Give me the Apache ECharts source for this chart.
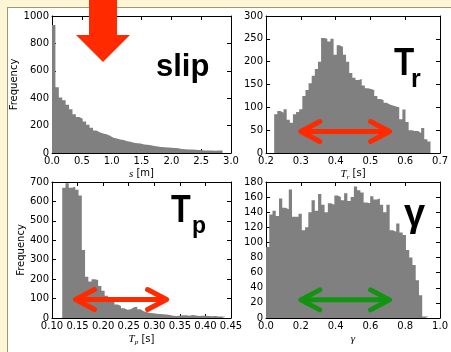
<!DOCTYPE html>
<html>
<head>
<meta charset="utf-8">
<script src="https://cdn.jsdelivr.net/npm/echarts@6/dist/echarts.min.js"></script>
<style>
  html, body { margin: 0; padding: 0; background: #fcf6d4; }
  #panel { position: absolute; left: 7px; top: 7px; width: 444px; height: 345px; background: #fff;
           border-left: 1px solid #9c977c; border-top: 1px solid #9c977c; box-sizing: border-box; }
  #chart { position: absolute; left: 0; top: 0; width: 451px; height: 352px; }
</style>
</head>
<body>
<div id="panel"></div>
<div id="chart"></div>
<script>
// histogram counts, 50 bins each
const slipCounts = [935, 480, 405, 385, 352, 320, 282, 262, 250, 230, 206, 184, 165, 152, 142, 136, 126, 112, 106, 98,
  94, 86, 82, 75, 72, 70, 62, 60, 57, 52, 48, 44, 42, 40, 38, 36, 34, 30, 28, 26, 25, 23, 21, 20, 19, 18, 18, 17, 19, 18];
const slipRange = [0, 2.86];

const trCounts = [85, 92, 88, 96, 73, 66, 85, 90, 96, 125, 138, 153, 169, 184, 200, 252, 250, 244, 250, 215,
  236, 232, 215, 200, 175, 165, 160, 162, 148, 142, 140, 138, 125, 118, 116, 110, 106, 104, 102, 100,
  74, 95, 68, 50, 48, 48, 44, 55, 30, 25];
const trRange = [0.2235, 0.6726];

const tpCounts = [671, 693, 671, 676, 660, 630, 350, 212, 188, 200, 195, 165, 140, 115, 100, 84, 70, 62, 50, 42,
  45, 55, 58, 45, 35, 30, 26, 24, 22, 20, 19, 18, 15, 12, 10, 12, 14, 14, 12, 15, 13, 10, 12, 11, 10, 9, 10, 8, 8, 6];
const tpRange = [0.120, 0.439];

const gammaCounts = [94, 137, 142, 135, 158, 146, 144, 170, 134, 134, 138, 116, 120, 140, 156, 142, 164, 150, 140, 152,
  150, 162, 160, 156, 165, 155, 160, 174, 169, 166, 153, 152, 161, 157, 158, 150, 140, 150, 116, 114,
  125, 113, 110, 90, 80, 70, 50, 30, 2, 2];
const gammaRange = [0, 0.935];

// axis ticks: [min, max, interval]
const slipXTicks = [0, 3, 0.5];
const slipYTicks = [0, 1000, 200];
const trXTicks = [0.2, 0.7, 0.1];
const trYTicks = [0, 300, 50];
const tpXTicks = [0.10, 0.45, 0.05];
const tpYTicks = [0, 700, 100];
const gammaXTicks = [0, 1, 0.2];
const gammaYTicks = [0, 180, 20];

// double arrows: [x from, x to, y]
const trArrow = [0.3, 0.555, 47];
const tpArrow = [0.146, 0.324, 95];
const gammaArrow = [0.2, 0.71, 24];

const RED = "#ff2a00";
const GREEN = "#129412";
const GRAY = "#808080";
const TICK_FONT = "DejaVu Sans";

const chart = echarts.init(document.getElementById("chart"));

function histPoints(counts, range) {
  const w = (range[1] - range[0]) / counts.length;
  const pts = counts.map((c, i) => [range[0] + i * w, c]);
  pts.push([range[1], counts[counts.length - 1]]);
  return pts;
}

function arrowItem(color) {
  return function (params, api) {
    const a = api.coord([api.value(0), api.value(2)]);
    const b = api.coord([api.value(1), api.value(2)]);
    const st = { stroke: color, lineWidth: 5, lineCap: "round", lineJoin: "round", fill: null };
    return {
      type: "group",
      children: [
        { type: "polyline", shape: { points: [[a[0] + 3, a[1]], [b[0] - 3, b[1]]] }, style: st },
        { type: "polyline", shape: { points: [[a[0] + 19, a[1] - 10], [a[0], a[1]], [a[0] + 19, a[1] + 10]] }, style: st },
        { type: "polyline", shape: { points: [[b[0] - 19, b[1] - 10], [b[0], b[1]], [b[0] - 19, b[1] + 10]] }, style: st },
      ],
    };
  };
}

const grids = [
  { left: 52, top: 16, width: 179, height: 137 },
  { left: 266, top: 16, width: 177, height: 137 },
  { left: 52, top: 182, width: 179, height: 136 },
  { left: 266, top: 182, width: 177, height: 136 },
];

const panels = [
  { x: slipXTicks, y: slipYTicks, dec: 1, name: "{i|s} [m]", nameGap: 12, yName: "Frequency", yGap: 27,
    counts: slipCounts, range: slipRange },
  { x: trXTicks, y: trYTicks, dec: 1, name: "{i|T}{sub|r} [s]", nameGap: 12, yName: "", yGap: 0,
    counts: trCounts, range: trRange, arrow: trArrow, arrowColor: RED },
  { x: tpXTicks, y: tpYTicks, dec: 2, name: "{i|T}{sub|p} [s]", nameGap: 14, yName: "Frequency", yGap: 23,
    counts: tpCounts, range: tpRange, arrow: tpArrow, arrowColor: RED },
  { x: gammaXTicks, y: gammaYTicks, dec: 1, name: "{i|γ}", nameGap: 14, yName: "", yGap: 0,
    counts: gammaCounts, range: gammaRange, arrow: gammaArrow, arrowColor: GREEN },
];

const frame = { show: true, onZero: false, lineStyle: { color: "#000", width: 1 } };
const ticksIn = { show: true, inside: true, length: 4, lineStyle: { color: "#000" } };
const nameRich = {
  i: { fontFamily: "Liberation Serif", fontStyle: "italic", fontSize: 11, color: "#000", lineHeight: 14 },
  sub: { fontFamily: "Liberation Serif", fontStyle: "italic", fontSize: 7, color: "#000", lineHeight: 14, verticalAlign: "bottom" },
};

const xAxis = [];
const yAxis = [];
const series = [];
panels.forEach((p, i) => {
  const base = { gridIndex: i, type: "value", splitLine: { show: false }, axisLine: frame, axisTick: ticksIn };
  xAxis.push({
    ...base, position: "bottom", min: p.x[0], max: p.x[1], interval: p.x[2],
    axisLabel: { margin: 3, fontFamily: TICK_FONT, fontSize: 10, color: "#000", formatter: (v) => v.toFixed(p.dec) },
    name: p.name, nameLocation: "middle", nameGap: p.nameGap,
    nameTextStyle: { fontFamily: TICK_FONT, fontSize: 10, color: "#000", lineHeight: 14, rich: nameRich },
  });
  xAxis.push({ ...base, position: "top", min: p.x[0], max: p.x[1], interval: p.x[2], axisLabel: { show: false } });
  yAxis.push({
    ...base, position: "left", min: p.y[0], max: p.y[1], interval: p.y[2],
    axisLabel: { margin: 3, fontFamily: TICK_FONT, fontSize: 10, color: "#000", formatter: (v) => String(v) },
    name: p.yName, nameLocation: "middle", nameGap: p.yGap,
    nameTextStyle: { fontFamily: TICK_FONT, fontSize: 10, color: "#000" },
  });
  yAxis.push({ ...base, position: "right", min: p.y[0], max: p.y[1], interval: p.y[2], axisLabel: { show: false } });

  series.push({
    type: "line", xAxisIndex: 2 * i, yAxisIndex: 2 * i, step: "end", showSymbol: false, symbol: "none",
    data: histPoints(p.counts, p.range),
    lineStyle: { width: 0 }, areaStyle: { color: GRAY, opacity: 1 }, z: 1,
  });
  if (p.arrow) {
    series.push({
      type: "custom", xAxisIndex: 2 * i, yAxisIndex: 2 * i, renderItem: arrowItem(p.arrowColor),
      data: [p.arrow], clip: false, z: 5, encode: { x: [0, 1], y: 2 },
    });
  }
});

const bigText = { fontFamily: "Liberation Sans", fontWeight: "bold", fill: "#000", verticalAlign: "middle" };

const option = {
  animation: false,
  backgroundColor: "transparent",
  grid: grids,
  xAxis,
  yAxis,
  series,
  graphic: [
    // big red pointer over the slip panel
    { type: "polygon", z: 10,
      shape: { points: [[89, 0], [117, 0], [117, 35], [130, 35], [103, 62], [76, 35], [89, 35]] },
      style: { fill: RED } },
    { type: "text", x: 156, y: 67, z: 10, style: { ...bigText, text: "slip", fontSize: 31 } },
    { type: "text", x: 394, y: 64, scaleX: 0.85, z: 10, style: { ...bigText, text: "T", fontSize: 39 } },
    { type: "text", x: 411, y: 80, z: 10, style: { ...bigText, text: "r", fontSize: 25 } },
    { type: "text", x: 171, y: 212, scaleX: 0.85, z: 10, style: { ...bigText, text: "T", fontSize: 38 } },
    { type: "text", x: 192, y: 227, z: 10, style: { ...bigText, text: "p", fontSize: 23 } },
    { type: "text", x: 404, y: 216, z: 10, style: { ...bigText, text: "γ", fontSize: 38 } },
  ],
};
chart.setOption(option);
</script>
</body>
</html>
